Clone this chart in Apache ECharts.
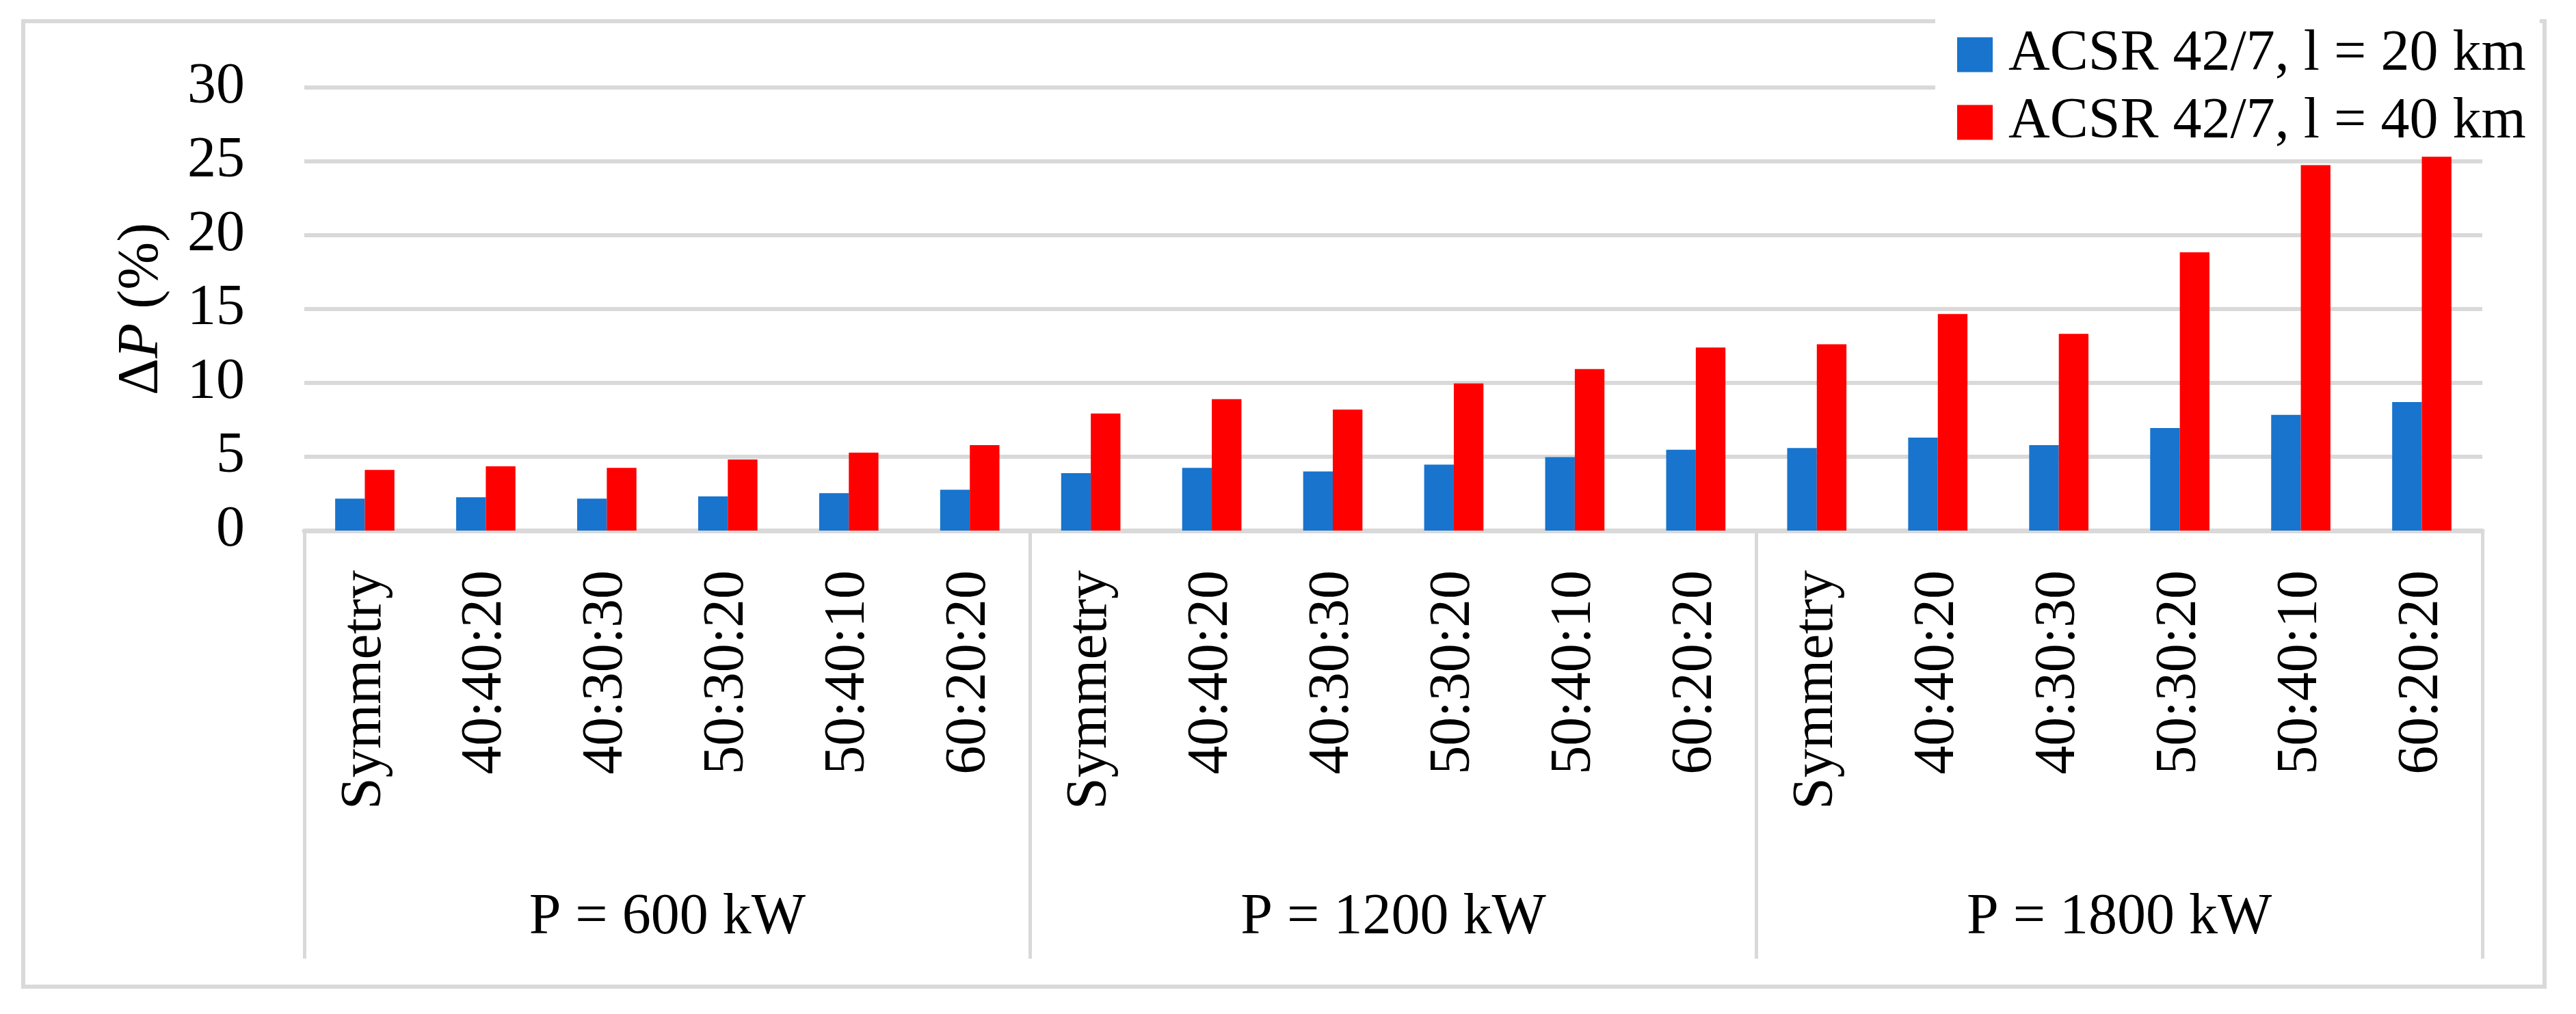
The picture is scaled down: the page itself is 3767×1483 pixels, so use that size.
<!DOCTYPE html>
<html>
<head>
<meta charset="utf-8">
<script src="https://cdn.jsdelivr.net/npm/echarts@6/dist/echarts.min.js"></script>
<style>
  html, body { margin: 0; padding: 0; background: #fff; }
  #main { width: 3767px; height: 1483px; }
</style>
</head>
<body>
<div id="main"></div>
<script type="text/javascript">
	var cases = ['Symmetry', '40:40:20', '40:30:30', '50:30:20', '50:40:10', '60:20:20'];
	var groups = ['P = 600 kW', 'P = 1200 kW', 'P = 1800 kW'];
	var categories = cases.concat(cases, cases);
	var seriesNames = ['ACSR 42/7, l = 20 km', 'ACSR 42/7, l = 40 km'];
	// values, per group of six
	var loss20 = [2.16, 2.26, 2.16, 2.31, 2.53, 2.77,
	              3.89, 4.25, 4.01, 4.47, 4.98, 5.47,
	              5.59, 6.30, 5.79, 6.95, 7.83, 8.70];
	var loss40 = [4.11, 4.35, 4.25, 4.81, 5.28, 5.79,
	              7.93, 8.90, 8.19, 9.97, 10.94, 12.40,
	              12.62, 14.66, 13.32, 18.84, 24.75, 25.31];
	var yTicks = [0, 5, 10, 15, 20, 25, 30];

	var font = '"Liberation Serif", "Times New Roman", serif';
	var gray = '#d9d9d9';

	var myChart = echarts.init(document.getElementById('main'));
	var option = {
		backgroundColor: '#fff',
		animation: false,
		graphic: [{
			type: 'rect',
			shape: { x: 34, y: 31, width: 3687, height: 1412 },
			style: { fill: 'none', stroke: gray, lineWidth: 6 },
			z: -1
		}],
		grid: { left: 445, right: 137, top: 128, bottom: 707 },
		legend: {
			orient: 'vertical',
			left: 2830,
			top: 18,
			padding: [20, 20, 0, 32],   // keep bottom tight so the tallest bars stay visible
			backgroundColor: '#fff',
			itemWidth: 52,
			itemHeight: 51,
			itemGap: 15,
			icon: 'rect',
			textStyle: { fontFamily: font, fontSize: 84, lineHeight: 84, color: '#000', padding: [0, 0, 0, 18] },
			data: seriesNames
		},
		xAxis: [
			{
				type: 'category',
				data: categories,
				axisLine: { lineStyle: { color: gray, width: 7 } },
				axisTick: { show: false },
				axisLabel: { rotate: 90, interval: 0, margin: 58, fontFamily: font, fontSize: 84, color: '#000' }
			},
			{
				type: 'category',
				position: 'bottom',
				data: groups,
				axisLine: { show: false },
				axisTick: { show: true, length: 626, lineStyle: { color: gray, width: 5 } },
				axisLabel: { margin: 525, fontFamily: font, fontSize: 84, lineHeight: 84, color: '#000' }
			}
		],
		yAxis: {
			type: 'value',
			min: yTicks[0],
			max: yTicks[yTicks.length - 1],
			interval: yTicks[1] - yTicks[0],
			name: 'Δ{i|P} (%)',
			nameLocation: 'middle',
			nameRotate: 90,
			nameGap: 195,
			nameTextStyle: {
				fontFamily: font, fontSize: 84, color: '#000',
				rich: { i: { fontFamily: font, fontSize: 84, fontStyle: 'italic', color: '#000' } }
			},
			axisLine: { show: false },
			axisTick: { show: false },
			axisLabel: { margin: 87, fontFamily: font, fontSize: 84, color: '#000' },
			splitLine: { lineStyle: { color: gray, width: 6 } }
		},
		series: [
			{
				name: seriesNames[0],
				type: 'bar',
				barGap: '0%',
				barCategoryGap: '51%',
				itemStyle: { color: '#1874CD' },
				data: loss20
			},
			{
				name: seriesNames[1],
				type: 'bar',
				itemStyle: { color: '#FF0000' },
				data: loss40
			}
		]
	};
	myChart.setOption(option);
</script>
</body>
</html>
